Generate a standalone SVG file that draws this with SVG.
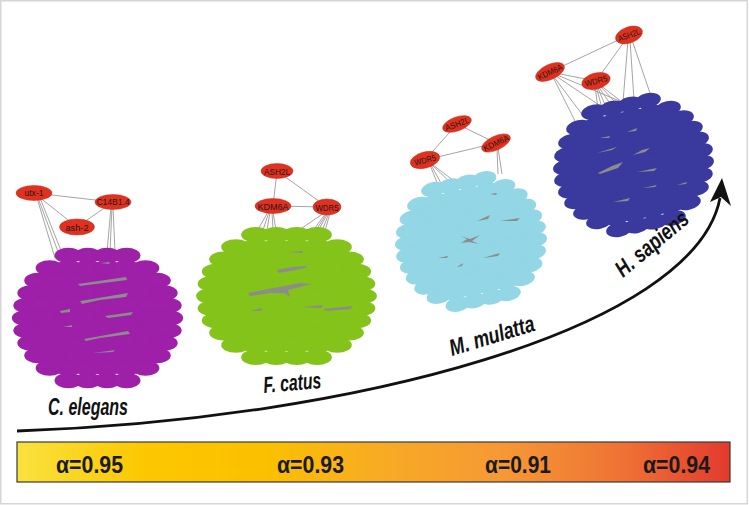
<svg xmlns="http://www.w3.org/2000/svg" xmlns:xlink="http://www.w3.org/1999/xlink" width="749" height="505" viewBox="0 0 749 505">
<style>
.hub{fill:#e0311f;stroke:#c4281a;stroke-width:0.5}
.ht{font-family:"Liberation Sans",Arial,sans-serif;font-size:8.5px;fill:#1a1a1a;text-anchor:middle}
.ln{stroke:#9a9a9a;stroke-width:0.9;fill:none}
.ge{fill:#8c8c8c}
.sp{font-family:"Liberation Sans",Arial,sans-serif;font-size:23px;font-weight:bold;font-style:italic;fill:#111}
.al{font-family:"Liberation Sans",Arial,sans-serif;font-size:23px;font-weight:bold;fill:#1a1a1a}
</style>
<defs>
<linearGradient id="grad" x1="0" y1="0" x2="1" y2="0">
<stop offset="0" stop-color="#f9e23f"/>
<stop offset="0.18" stop-color="#fcc700"/>
<stop offset="0.35" stop-color="#fbc000"/>
<stop offset="0.5" stop-color="#f8ac22"/>
<stop offset="0.68" stop-color="#f59935"/>
<stop offset="0.85" stop-color="#ef7234"/>
<stop offset="1" stop-color="#e23a2e"/>
</linearGradient>
<g id="blob">
<ellipse cx="0" cy="0" rx="72" ry="56"/>
<ellipse cx="-29.4" cy="-62.5" rx="14" ry="7.8"/><ellipse cx="-9.8" cy="-62.5" rx="14" ry="7.8"/><ellipse cx="9.8" cy="-62.5" rx="14" ry="7.8"/><ellipse cx="29.4" cy="-62.5" rx="14" ry="7.8"/>
<ellipse cx="-48.5" cy="-50" rx="14" ry="7.8"/><ellipse cx="-29.1" cy="-50" rx="14" ry="7.8"/><ellipse cx="-9.7" cy="-50" rx="14" ry="7.8"/><ellipse cx="9.7" cy="-50" rx="14" ry="7.8"/><ellipse cx="29.1" cy="-50" rx="14" ry="7.8"/><ellipse cx="48.5" cy="-50" rx="14" ry="7.8"/>
<ellipse cx="-60" cy="-37.5" rx="14" ry="7.8"/><ellipse cx="-40" cy="-37.5" rx="14" ry="7.8"/><ellipse cx="-20" cy="-37.5" rx="14" ry="7.8"/><ellipse cx="0" cy="-37.5" rx="14" ry="7.8"/><ellipse cx="20" cy="-37.5" rx="14" ry="7.8"/><ellipse cx="40" cy="-37.5" rx="14" ry="7.8"/><ellipse cx="60" cy="-37.5" rx="14" ry="7.8"/>
<ellipse cx="-67" cy="-25" rx="14" ry="7.8"/><ellipse cx="-47.9" cy="-25" rx="14" ry="7.8"/><ellipse cx="-28.7" cy="-25" rx="14" ry="7.8"/><ellipse cx="-9.6" cy="-25" rx="14" ry="7.8"/><ellipse cx="9.6" cy="-25" rx="14" ry="7.8"/><ellipse cx="28.7" cy="-25" rx="14" ry="7.8"/><ellipse cx="47.9" cy="-25" rx="14" ry="7.8"/><ellipse cx="67" cy="-25" rx="14" ry="7.8"/>
<ellipse cx="-71" cy="-12.5" rx="14" ry="7.8"/><ellipse cx="-53.25" cy="-12.5" rx="14" ry="7.8"/><ellipse cx="-35.5" cy="-12.5" rx="14" ry="7.8"/><ellipse cx="-17.75" cy="-12.5" rx="14" ry="7.8"/><ellipse cx="0" cy="-12.5" rx="14" ry="7.8"/><ellipse cx="17.75" cy="-12.5" rx="14" ry="7.8"/><ellipse cx="35.5" cy="-12.5" rx="14" ry="7.8"/><ellipse cx="53.25" cy="-12.5" rx="14" ry="7.8"/><ellipse cx="71" cy="-12.5" rx="14" ry="7.8"/>
<ellipse cx="-72.5" cy="0" rx="14" ry="7.8"/><ellipse cx="-51.8" cy="0" rx="14" ry="7.8"/><ellipse cx="-31.1" cy="0" rx="14" ry="7.8"/><ellipse cx="-10.4" cy="0" rx="14" ry="7.8"/><ellipse cx="10.4" cy="0" rx="14" ry="7.8"/><ellipse cx="31.1" cy="0" rx="14" ry="7.8"/><ellipse cx="51.8" cy="0" rx="14" ry="7.8"/><ellipse cx="72.5" cy="0" rx="14" ry="7.8"/>
<ellipse cx="-71" cy="12.5" rx="14" ry="7.8"/><ellipse cx="-53.25" cy="12.5" rx="14" ry="7.8"/><ellipse cx="-35.5" cy="12.5" rx="14" ry="7.8"/><ellipse cx="-17.75" cy="12.5" rx="14" ry="7.8"/><ellipse cx="0" cy="12.5" rx="14" ry="7.8"/><ellipse cx="17.75" cy="12.5" rx="14" ry="7.8"/><ellipse cx="35.5" cy="12.5" rx="14" ry="7.8"/><ellipse cx="53.25" cy="12.5" rx="14" ry="7.8"/><ellipse cx="71" cy="12.5" rx="14" ry="7.8"/>
<ellipse cx="-67" cy="25" rx="14" ry="7.8"/><ellipse cx="-47.9" cy="25" rx="14" ry="7.8"/><ellipse cx="-28.7" cy="25" rx="14" ry="7.8"/><ellipse cx="-9.6" cy="25" rx="14" ry="7.8"/><ellipse cx="9.6" cy="25" rx="14" ry="7.8"/><ellipse cx="28.7" cy="25" rx="14" ry="7.8"/><ellipse cx="47.9" cy="25" rx="14" ry="7.8"/><ellipse cx="67" cy="25" rx="14" ry="7.8"/>
<ellipse cx="-60" cy="37.5" rx="14" ry="7.8"/><ellipse cx="-40" cy="37.5" rx="14" ry="7.8"/><ellipse cx="-20" cy="37.5" rx="14" ry="7.8"/><ellipse cx="0" cy="37.5" rx="14" ry="7.8"/><ellipse cx="20" cy="37.5" rx="14" ry="7.8"/><ellipse cx="40" cy="37.5" rx="14" ry="7.8"/><ellipse cx="60" cy="37.5" rx="14" ry="7.8"/>
<ellipse cx="-48.5" cy="50" rx="14" ry="7.8"/><ellipse cx="-29.1" cy="50" rx="14" ry="7.8"/><ellipse cx="-9.7" cy="50" rx="14" ry="7.8"/><ellipse cx="9.7" cy="50" rx="14" ry="7.8"/><ellipse cx="29.1" cy="50" rx="14" ry="7.8"/><ellipse cx="48.5" cy="50" rx="14" ry="7.8"/>
<ellipse cx="-29.4" cy="62.5" rx="14" ry="7.8"/><ellipse cx="-9.8" cy="62.5" rx="14" ry="7.8"/><ellipse cx="9.8" cy="62.5" rx="14" ry="7.8"/><ellipse cx="29.4" cy="62.5" rx="14" ry="7.8"/>
</g>
</defs>
<rect x="0.75" y="0.75" width="746.5" height="503" fill="#ffffff" stroke="#d6d6d6" stroke-width="1.5"/>

<g id="connectors">
<!-- C. elegans -->
<line class="ln" x1="34" y1="193" x2="113" y2="202"/>
<line class="ln" x1="34" y1="193" x2="77" y2="227"/>
<line class="ln" x1="77" y1="227" x2="113" y2="202"/>
<line class="ln" x1="37" y1="198" x2="55" y2="258"/>
<line class="ln" x1="38" y1="198" x2="60" y2="257"/>
<line class="ln" x1="40" y1="198" x2="64" y2="258"/>
<line class="ln" x1="111" y1="207" x2="107" y2="252"/>
<line class="ln" x1="112" y1="207" x2="110" y2="252"/>
<line class="ln" x1="113" y1="207" x2="115" y2="252"/>
<!-- F. catus -->
<line class="ln" x1="277" y1="171" x2="273" y2="206"/>
<line class="ln" x1="277" y1="171" x2="327" y2="207"/>
<line class="ln" x1="273" y1="206" x2="327" y2="207"/>
<line class="ln" x1="268" y1="212" x2="257" y2="231"/>
<line class="ln" x1="269" y1="212" x2="263" y2="230"/>
<line class="ln" x1="270" y1="212" x2="267" y2="230"/>
<line class="ln" x1="272" y1="212" x2="273" y2="230"/>
<line class="ln" x1="273" y1="212" x2="276" y2="230"/>
<line class="ln" x1="324" y1="213" x2="302" y2="228"/>
<line class="ln" x1="326" y1="213" x2="312" y2="232"/>
<line class="ln" x1="327" y1="213" x2="315" y2="232"/>
<line class="ln" x1="328" y1="213" x2="318" y2="231"/>
<line class="ln" x1="329" y1="213" x2="322" y2="231"/>
<line class="ln" x1="330" y1="213" x2="325" y2="231"/>
<!-- M. mulatta -->
<line class="ln" x1="457" y1="124" x2="425" y2="160"/>
<line class="ln" x1="457" y1="124" x2="496" y2="143"/>
<line class="ln" x1="425" y1="160" x2="496" y2="143"/>
<line class="ln" x1="430" y1="165" x2="438" y2="185"/>
<line class="ln" x1="431" y1="165" x2="442" y2="185"/>
<line class="ln" x1="432" y1="165" x2="452" y2="184"/>
<line class="ln" x1="433" y1="165" x2="458" y2="184"/>
<line class="ln" x1="497" y1="148" x2="498" y2="174"/>
<line class="ln" x1="498" y1="148" x2="502" y2="174"/>
<!-- H. sapiens -->
<line class="ln" x1="629" y1="35" x2="550" y2="72"/>
<line class="ln" x1="629" y1="35" x2="596" y2="81"/>
<line class="ln" x1="550" y1="72" x2="596" y2="81"/>
<line class="ln" x1="628" y1="40" x2="623" y2="102"/>
<line class="ln" x1="630" y1="40" x2="634" y2="100"/>
<line class="ln" x1="632" y1="40" x2="653" y2="102"/>
<line class="ln" x1="553" y1="77" x2="577" y2="125"/>
<line class="ln" x1="554" y1="77" x2="584" y2="117"/>
<line class="ln" x1="556" y1="76" x2="602" y2="107"/>
<line class="ln" x1="557" y1="75" x2="622" y2="102"/>
<line class="ln" x1="595" y1="86" x2="598" y2="109"/>
<line class="ln" x1="596" y1="86" x2="602" y2="108"/>
<line class="ln" x1="597" y1="86" x2="606" y2="107"/>
<line class="ln" x1="598" y1="86" x2="611" y2="105"/>
<line class="ln" x1="599" y1="85" x2="616" y2="103"/>
<line class="ln" x1="600" y1="85" x2="622" y2="102"/>
<!-- evolution arrow -->
<path d="M17,431 C350,420 695,330 720,198" fill="none" stroke="#111" stroke-width="2.8"/>
<polygon points="722,178 731,206 721,197 710,202" fill="#111"/>
</g>

<g id="c-elegans">
<use xlink:href="#blob" href="#blob" fill="#9e1fa8" transform="translate(97.5,318) scale(0.99,1)"/>
<path class="ge" d="M78,284 L126,277 L127,280 L80,286 Z M80,301 L104,297 L128,293 L126,297 L100,300 L82,304 Z M105,316 L133,312 L131,315 L108,318 Z M60,311 L70,309 L70,312 L61,313 Z M63,327 L72,325 L72,327 Z M84,339 L128,331 L130,334 L100,338 L86,341 Z M93,353 L115,350 L113,352 Z M100,263 L110,262 L109,264 Z"/>
<g id="utx-1"><ellipse class="hub" cx="34" cy="193" rx="18" ry="7.5"/><text class="ht" x="34" y="196" textLength="19" lengthAdjust="spacingAndGlyphs">utx-1</text></g>
<g id="C14B1.4"><ellipse class="hub" cx="113" cy="202" rx="18" ry="7.5"/><text class="ht" x="113" y="205" textLength="33" lengthAdjust="spacingAndGlyphs">C14B1.4</text></g>
<g id="ash-2"><ellipse class="hub" cx="77" cy="227" rx="17.5" ry="8"/><text class="ht" x="77" y="230.5" textLength="23" lengthAdjust="spacingAndGlyphs">ash-2</text></g>
</g>

<g id="f-catus">
<use xlink:href="#blob" href="#blob" fill="#84c31a" transform="translate(286.5,296) scale(1.045,0.98)"/>
<path class="ge" d="M277,270 L292,267 L307,266 L305,268 L290,271 L279,273 Z M248,293 L268,289 L285,286 L300,283 L312,284 L300,287 L288,290 L290,297 L284,293 L270,293 L250,296 Z M303,307 L323,305 L321,308 Z M250,311 L262,308 L261,311 Z M323,309 L353,306 L350,309 L326,311 Z M290,252 L303,251 L302,253 Z"/>
<g id="f-ASH2L"><ellipse class="hub" cx="277" cy="171" rx="16" ry="7.5"/><text class="ht" x="277" y="174.5" textLength="26" lengthAdjust="spacingAndGlyphs">ASH2L</text></g>
<g id="f-KDM6A"><ellipse class="hub" cx="273" cy="206" rx="18" ry="7.5"/><text class="ht" x="273" y="209.5" textLength="31" lengthAdjust="spacingAndGlyphs">KDM6A</text></g>
<g id="f-WDR5"><ellipse class="hub" cx="327" cy="207" rx="14" ry="8"/><text class="ht" x="327" y="210.5" textLength="23" lengthAdjust="spacingAndGlyphs">WDR5</text></g>
</g>

<g id="m-mulatta">
<use xlink:href="#blob" href="#blob" fill="#93d6e6" transform="translate(471,241.5) rotate(-12) scale(0.883,0.94)"/>
<path class="ge" d="M460,236 L470,239 L480,235 L472,241 L479,244 L469,242 L461,243 L467,239 Z M477,221 L490,215 L488,219 Z M500,221 L520,218 L517,221 Z M438,258 L448,256 L447,258 Z M483,258 L500,253 L498,256 Z M457,267 L463,263 L462,266 Z M490,194 L497,193 L496,195 Z"/>
<g id="m-ASH2L" transform="translate(457,124) rotate(-20)"><ellipse class="hub" rx="15" ry="7"/><text class="ht" y="3" textLength="25" lengthAdjust="spacingAndGlyphs">ASH2L</text></g>
<g id="m-KDM6A" transform="translate(496,143) rotate(-25)"><ellipse class="hub" rx="15.5" ry="7"/><text class="ht" y="3" textLength="27" lengthAdjust="spacingAndGlyphs">KDM6A</text></g>
<g id="m-WDR5" transform="translate(425,160) rotate(-15)"><ellipse class="hub" rx="15" ry="8"/><text class="ht" y="3" textLength="22" lengthAdjust="spacingAndGlyphs">WDR5</text></g>
</g>

<g id="h-sapiens">
<use xlink:href="#blob" href="#blob" fill="#3a3a9e" transform="translate(633.5,165) rotate(-12) scale(0.936,0.96)"/>
<path class="ge" d="M598,173 L612,166 L623,162 L618,168 L600,174 Z M633,155 L642,150 L650,148 L645,152 Z M637,172 L657,168 L654,171 Z M597,153 L610,149 L617,147 L612,150 Z M600,138 L610,136 L609,138 Z M627,132 L637,128 L636,131 Z M643,188 L657,185 L655,187 Z M613,202 L630,198 L628,201 Z M677,185 L687,182 L686,184 Z"/>
<g id="h-ASH2L" transform="translate(629,35) rotate(-20)"><ellipse class="hub" rx="14" ry="8"/><text class="ht" y="3" textLength="23" lengthAdjust="spacingAndGlyphs">ASH2L</text></g>
<g id="h-KDM6A" transform="translate(550,72) rotate(-25)"><ellipse class="hub" rx="15.5" ry="7.5"/><text class="ht" y="3" textLength="26" lengthAdjust="spacingAndGlyphs">KDM6A</text></g>
<g id="h-WDR5" transform="translate(596,81) rotate(-15)"><ellipse class="hub" rx="14.5" ry="8"/><text class="ht" y="3" textLength="23" lengthAdjust="spacingAndGlyphs">WDR5</text></g>
</g>

<g id="labels">
<text class="sp" x="48" y="415" textLength="80" lengthAdjust="spacingAndGlyphs">C. elegans</text>
<text class="sp" transform="translate(264,393) rotate(-5)" textLength="58" lengthAdjust="spacingAndGlyphs">F. catus</text>
<text class="sp" transform="translate(452,356) rotate(-17)" textLength="88" lengthAdjust="spacingAndGlyphs">M. mulatta</text>
<text class="sp" transform="translate(623,278) rotate(-40)" textLength="88" lengthAdjust="spacingAndGlyphs">H. sapiens</text>
</g>

<g id="alpha-bar">
<rect x="17" y="442" width="713" height="40" fill="url(#grad)" stroke="#3a3a3a" stroke-width="1.2"/>
<text class="al" x="56" y="472.5" textLength="67" lengthAdjust="spacingAndGlyphs">α=0.95</text>
<text class="al" x="277" y="472.5" textLength="67" lengthAdjust="spacingAndGlyphs">α=0.93</text>
<text class="al" x="485" y="472.5" textLength="66" lengthAdjust="spacingAndGlyphs">α=0.91</text>
<text class="al" x="643" y="472.5" textLength="67" lengthAdjust="spacingAndGlyphs">α=0.94</text>
</g>
</svg>
